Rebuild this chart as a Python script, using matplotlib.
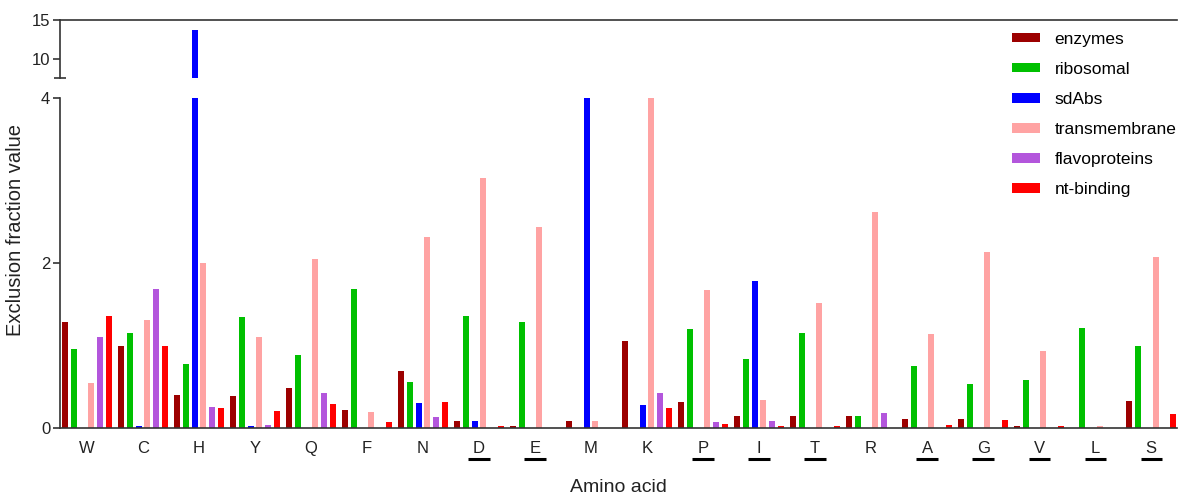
import matplotlib
matplotlib.use("Agg")
import matplotlib.pyplot as plt
import numpy as np

plt.rcParams['font.family'] = ['Liberation Sans', 'DejaVu Sans']

amino_acids = ['W', 'C', 'H', 'Y', 'Q', 'F', 'N', 'D', 'E', 'M',
               'K', 'P', 'I', 'T', 'R', 'A', 'G', 'V', 'L', 'S']
underlined = ['D', 'E', 'P', 'I', 'T', 'A', 'G', 'V', 'L', 'S']

enzymes = [1.29, 0.99, 0.40, 0.39, 0.48, 0.22, 0.69, 0.08, 0.02, 0.08,
           1.05, 0.32, 0.15, 0.15, 0.14, 0.11, 0.11, 0.02, 0.0, 0.33]
ribosomal = [0.96, 1.15, 0.78, 1.34, 0.88, 1.69, 0.56, 1.36, 1.28, 0.0,
             0.0, 1.20, 0.84, 1.15, 0.14, 0.75, 0.53, 0.58, 1.21, 1.00]
sdabs = [0.0, 0.02, 13.7, 0.03, 0.0, 0.0, 0.30, 0.09, 0.0, 5.0,
         0.28, 0.0, 1.78, 0.0, 0.0, 0.0, 0.0, 0.0, 0.0, 0.0]
transmembrane = [0.54, 1.31, 2.00, 1.10, 2.05, 0.19, 2.32, 3.03, 2.44, 0.08,
                 5.0, 1.67, 0.34, 1.52, 2.62, 1.14, 2.13, 0.93, 0.02, 2.07]
flavoproteins = [1.10, 1.68, 0.26, 0.04, 0.42, 0.0, 0.13, 0.0, 0.0, 0.0,
                 0.42, 0.07, 0.08, 0.0, 0.18, 0.0, 0.0, 0.0, 0.0, 0.0]
nt_binding = [1.36, 1.00, 0.24, 0.21, 0.29, 0.07, 0.32, 0.03, 0.0, 0.0,
              0.24, 0.05, 0.02, 0.02, 0.0, 0.04, 0.10, 0.02, 0.0, 0.17]

series = [
    ('enzymes', enzymes, '#9c0000'),
    ('ribosomal', ribosomal, '#00c000'),
    ('sdAbs', sdabs, '#0000ff'),
    ('transmembrane', transmembrane, '#ffa3a3'),
    ('flavoproteins', flavoproteins, '#b356dc'),
    ('nt-binding', nt_binding, '#ff0000'),
]

fig = plt.figure(figsize=(11.78, 4.97), dpi=100)
ax_hi = fig.add_axes([0.0509, 0.843, 0.9482, 0.1168])
ax_lo = fig.add_axes([0.0509, 0.1388, 0.9482, 0.664])

x = np.arange(len(amino_acids))
step, width = 0.155, 0.107
handles = []
for i, (name, vals, color) in enumerate(series):
    off = (i - 2.5) * step
    for ax in (ax_hi, ax_lo):
        b = ax.bar(x + off, vals, width=width, color=color, label=name)
    handles.append(b)

spine_col = '#333333'
for ax in (ax_hi, ax_lo):
    ax.set_xlim(-0.482, 19.46)
    ax.spines['right'].set_visible(False)
    for s in ax.spines.values():
        s.set_color(spine_col)
        s.set_linewidth(1.2)
    ax.tick_params(axis='y', which='major', length=5, width=1.2,
                   color=spine_col, labelsize=12, labelcolor='#222222', pad=2)
    ax.tick_params(axis='y', which='minor', direction='inout', length=9,
                   width=1.2, color=spine_col)

# upper panel of the broken axis
ax_hi.set_ylim(7.5, 15)
ax_hi.set_yticks([10, 15])
ax_hi.set_yticks([7.5], minor=True)
ax_hi.spines['bottom'].set_visible(False)
ax_hi.set_xticks([])

# lower panel
ax_lo.set_ylim(0, 4)
ax_lo.set_yticks([0, 2, 4])
ax_lo.set_yticks([4], minor=True)
ax_lo.spines['top'].set_visible(False)
ax_lo.set_xticks(x)
ax_lo.set_xticklabels(amino_acids, fontsize=12, color='#222222')
ax_lo.tick_params(axis='x', length=0, pad=9)
ax_lo.set_xlabel('Amino acid', fontsize=14, labelpad=17, color='#222222')
ax_lo.set_ylabel('Exclusion fraction value', fontsize=14.5, color='#222222')
ax_lo.yaxis.set_label_coords(-0.0313, 0.6)

# underline marks below selected residues
trans = ax_lo.get_xaxis_transform()
for i, aa in enumerate(amino_acids):
    if aa in underlined:
        ax_lo.plot([i - 0.19, i + 0.19], [-0.095, -0.095], color='black',
                   lw=2.2, transform=trans, clip_on=False,
                   solid_capstyle='butt')

fig.legend(handles=handles, labels=[s[0] for s in series],
           loc='upper left', bbox_to_anchor=(0.859, 0.936), frameon=False,
           fontsize=12.5, handlelength=1.6, handleheight=0.46,
           labelspacing=0.87, handletextpad=0.86, borderpad=0,
           borderaxespad=0)

fig.savefig('out.png', dpi=100)
